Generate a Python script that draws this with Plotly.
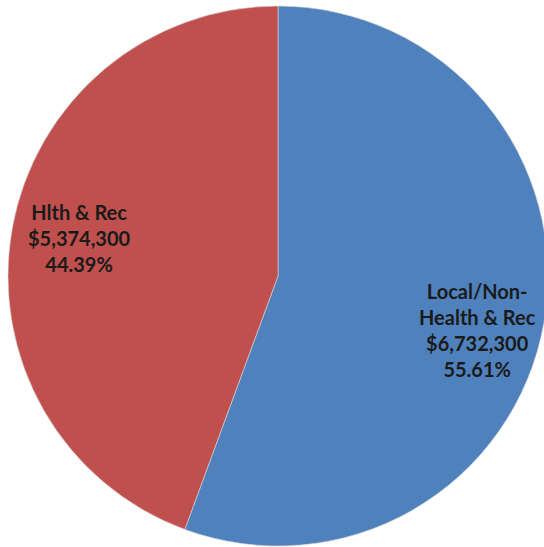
import plotly.graph_objects as go

# Budget split between the two funding sources
categories = ["Local/Non-<br>Health & Rec", "Hlth & Rec"]
amounts = [6732300, 5374300]
percent_labels = ["55.61%", "44.39%"]
colors = ["#4F81BD", "#C0504D"]

W, H = 556, 547
R = 270
CX, CY = 278, 276

fig = go.Figure(
    go.Pie(
        labels=categories,
        values=amounts,
        sort=False,
        direction="clockwise",
        rotation=0,
        marker=dict(colors=colors, line=dict(color="#d8d8d8", width=0.6)),
        textinfo="none",
        hoverinfo="label+value+percent",
        showlegend=False,
        domain=dict(x=[(CX - R) / W, (CX + R) / W], y=[(H - CY - R) / H, (H - CY + R) / H]),
    )
)

# Data labels placed in each slice (pixel centres converted to paper units)
label_centres = [(477, 330), (79, 238)]
for cat, amt, pct, (lx, ly) in zip(categories, amounts, percent_labels, label_centres):
    fig.add_annotation(
        x=lx / W,
        y=1 - ly / H,
        xref="paper",
        yref="paper",
        text=f"<b>{cat}<br>${amt:,}<br>{pct}</b>",
        showarrow=False,
        align="center",
        xanchor="center",
        yanchor="middle",
        font=dict(family="Lato", size=20, color="#1a1a1a"),
    )

fig.update_layout(
    width=W,
    height=H,
    margin=dict(l=0, r=0, t=0, b=0),
    paper_bgcolor="white",
    plot_bgcolor="white",
)

fig.write_html(
    "out.html",
    post_script="document.body.style.margin='0';document.body.style.overflow='hidden';document.documentElement.style.overflow='hidden';",
)
